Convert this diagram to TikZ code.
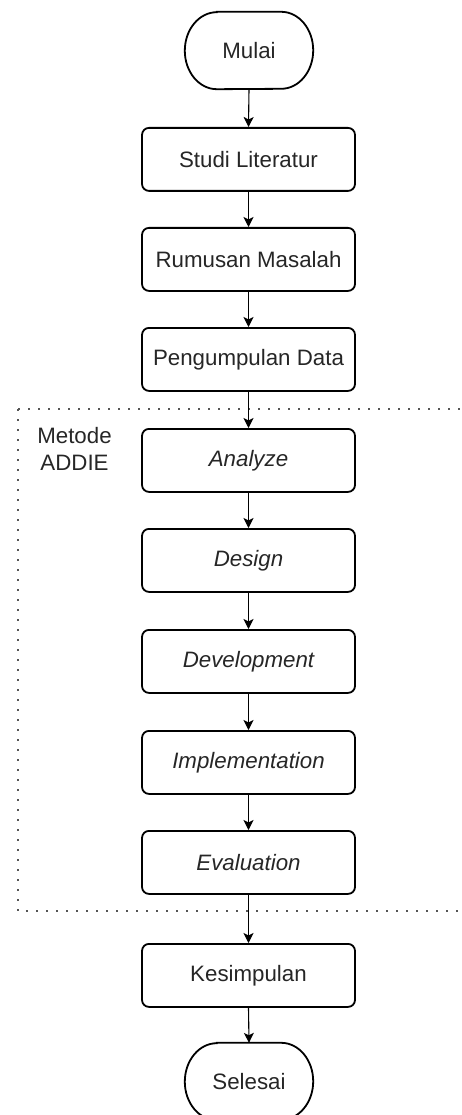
\documentclass[tikz,border=0pt]{standalone}
\usepackage{fontspec}
\setmainfont{Liberation Sans}
\usetikzlibrary{arrows.meta}
\definecolor{txt}{HTML}{262626}
\definecolor{dotc}{HTML}{555555}
\begin{document}
\begin{tikzpicture}[x=1pt,y=-1pt,
  lbl/.style={text=txt, font=\fontsize{22.3pt}{27pt}\selectfont},
  stepbox/.style={lbl, draw=black, line width=1.8pt, rounded corners=7pt,
    minimum width=213pt, minimum height=63pt, inner sep=0pt, anchor=north},
  phase/.style={stepbox, font=\fontsize{22.3pt}{27pt}\selectfont\itshape},
  term/.style={lbl, minimum width=128pt, minimum height=77pt, inner sep=0pt},
  termline/.style={line width=1.8pt, draw=black},
  conn/.style={line width=1.1pt, draw=black, -{Stealth[length=10pt,width=10pt,inset=2.5pt]}},
  dotline/.style={line width=2pt, draw=dotc, dash pattern=on 2pt off 8pt}
]
\useasboundingbox (0,0) rectangle (462,1115);

% dotted group frame
\draw[dotline] (18,409) -- (475,409);
\draw[dotline] (18,409) -- (18,911) -- (475,911);
\node[lbl, align=center] (metode) at (74.5,449) {Metode\\ADDIE};

% terminators
\node[term] (mulai) at (249,50.5) {Mulai};
\draw[termline] ([xshift=32pt]mulai.north west) -- ([xshift=-32pt]mulai.north east)
  arc[start angle=90,end angle=-90,x radius=32pt,y radius=38.5pt]
  -- ([xshift=32pt]mulai.south west)
  arc[start angle=270,end angle=90,x radius=32pt,y radius=38.5pt] -- cycle;

\node[term] (selesai) at (249,1081.5) {Selesai};
\draw[termline] ([xshift=32pt]selesai.north west) -- ([xshift=-32pt]selesai.north east)
  arc[start angle=90,end angle=-90,x radius=32pt,y radius=38.5pt]
  -- ([xshift=32pt]selesai.south west)
  arc[start angle=270,end angle=90,x radius=32pt,y radius=38.5pt] -- cycle;

% process boxes
\node[stepbox] (studi) at (248.5,127) {Studi Literatur};
\node[stepbox] (rumusan) at (248.5,227) {Rumusan Masalah};
\node[stepbox] (data) at (248.5,327) {Pengumpulan Data};
\node[phase] (analyze) at (248.5,428) {Analyze};
\node[phase] (design) at (248.5,528) {Design};
\node[phase] (develop) at (248.5,629) {Development};
\node[phase] (implement) at (248.5,730) {Implementation};
\node[phase] (evaluate) at (248.5,830) {Evaluation};
\node[stepbox] (kesimpulan) at (248.5,943) {Kesimpulan};

% connectors
\draw[conn] (mulai.south) -- (studi.north);
\draw[conn] (studi.south) -- (rumusan.north);
\draw[conn] (rumusan.south) -- (data.north);
\draw[conn] (data.south) -- (analyze.north);
\draw[conn] (analyze.south) -- (design.north);
\draw[conn] (design.south) -- (develop.north);
\draw[conn] (develop.south) -- (implement.north);
\draw[conn] (implement.south) -- (evaluate.north);
\draw[conn] (evaluate.south) -- (kesimpulan.north);
\draw[conn] (kesimpulan.south) -- (selesai.north);
\end{tikzpicture}
\end{document}
